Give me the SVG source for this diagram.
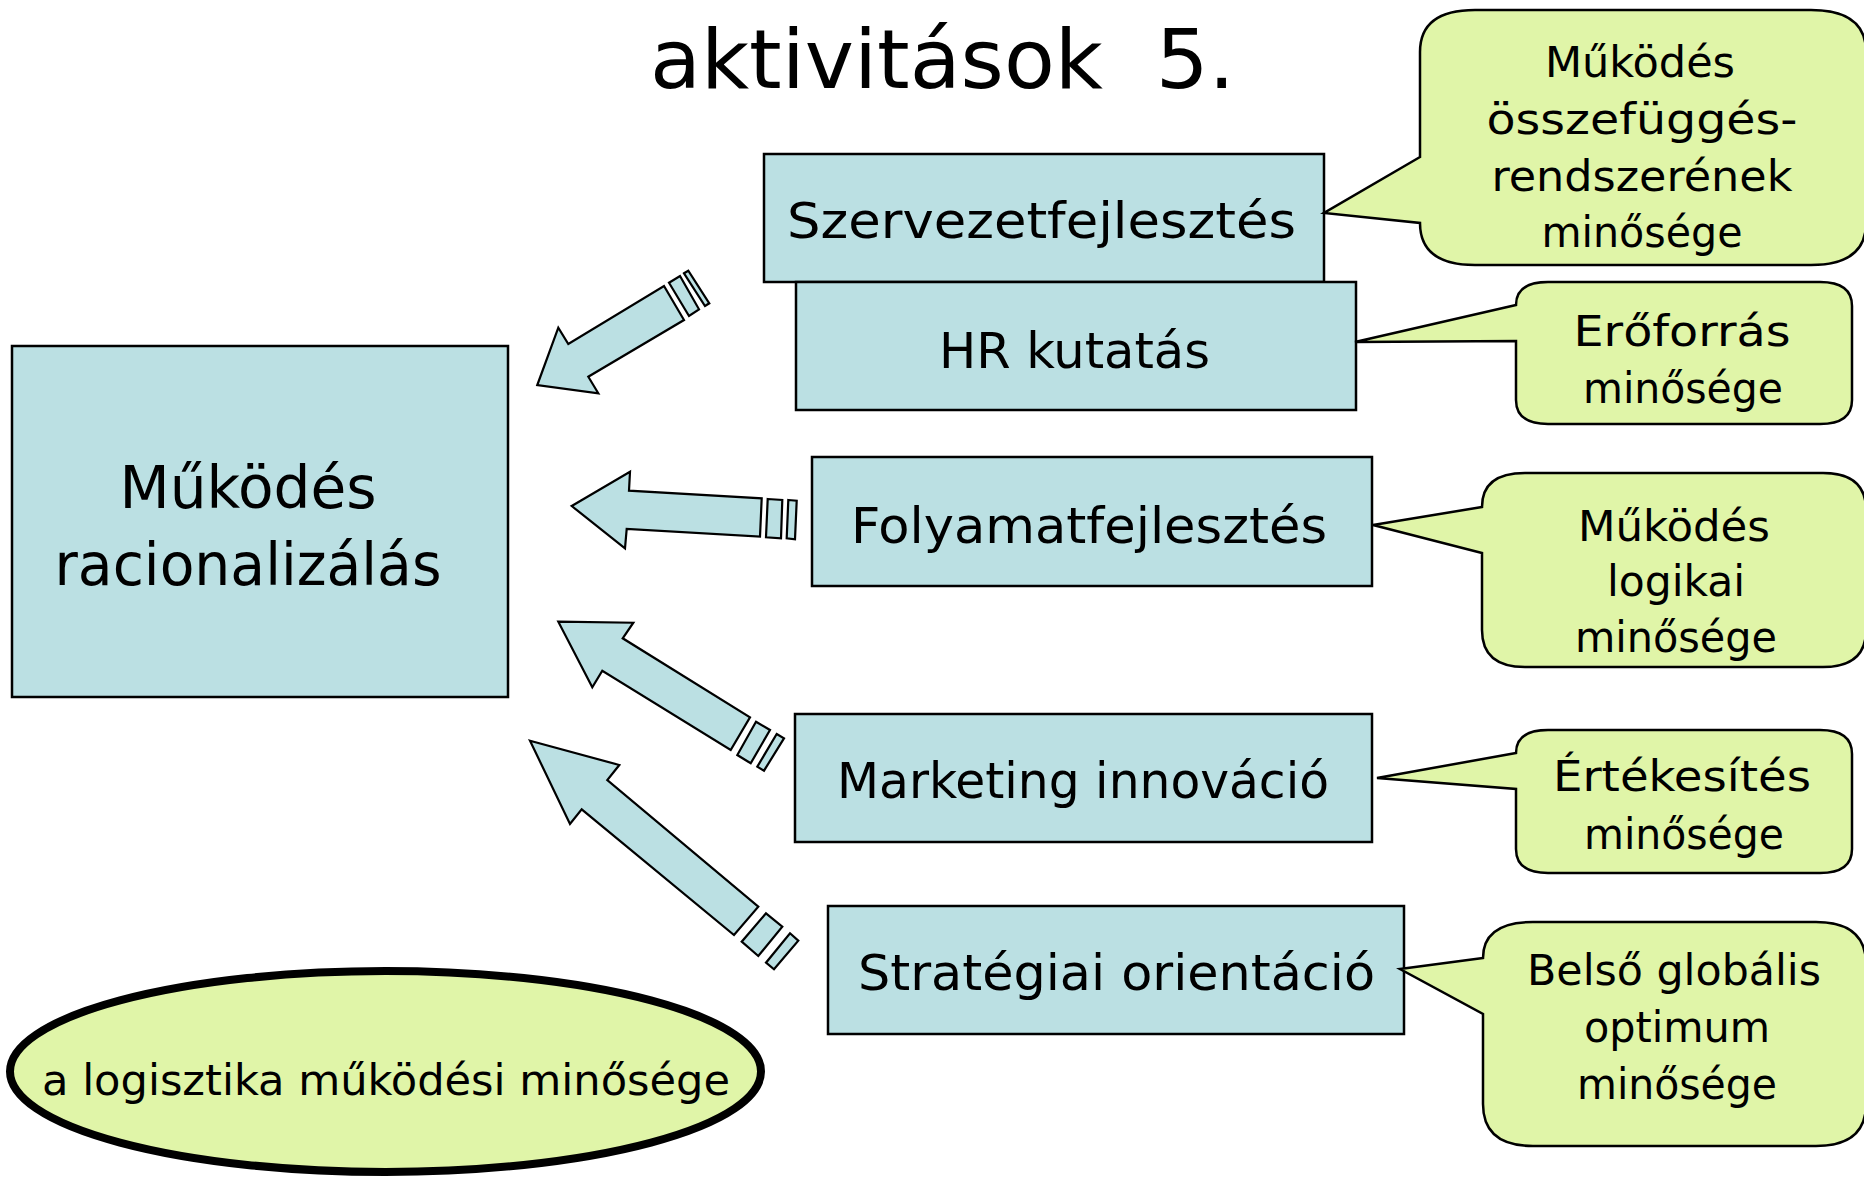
<svg xmlns="http://www.w3.org/2000/svg" width="1864" height="1178" viewBox="0 0 1864 1178">
<style>
.box{fill:#BBE0E3;stroke:#000;stroke-width:2.5}
.call{fill:#E0F5A8;stroke:#000;stroke-width:2.5;stroke-linejoin:miter}
.arrow{fill:#BBE0E3;stroke:#000;stroke-width:2.2;stroke-linejoin:miter}
text{font-family:"DejaVu Sans Condensed","DejaVu Sans",sans-serif;fill:#000}
.bt{font-size:50px}
.ct{font-size:43px;text-anchor:middle}
</style>
<rect width="1864" height="1178" fill="#fff"/>
<g id="title">
<text x="650" y="88" font-size="82" textLength="585" lengthAdjust="spacingAndGlyphs">aktivitások&#160;&#160;5.</text>
</g>
<g id="connectors">
<g id="arrow1">
<polygon class="arrow" points="537.3,385 558.3,327.7 568.3,344 664,286 684,320 588.3,376.7 598.3,393.3"/>
<polygon class="arrow" points="669,282.7 680,276 699,309.3 689,316"/>
<polygon class="arrow" points="684,273.3 688.3,270.7 709.3,303.3 705,306"/>
</g>
<g id="arrow2">
<polygon class="arrow" points="571.7,506 630,471.7 629,490.7 761.7,498.3 760,536.7 626.7,529 625,548.3"/>
<polygon class="arrow" points="767.7,499 782.3,500 781,538.3 766,537.3"/>
<polygon class="arrow" points="788.3,500 796.7,500.7 795,539.3 786.7,538.3"/>
</g>
<g id="arrow3">
<polygon class="arrow" points="558.3,621.7 633.3,622.7 622.7,638.3 750,717.3 730.7,750 602.3,670.7 592.3,687.3"/>
<polygon class="arrow" points="756,721.7 770,730 750.7,763.3 737.3,755"/>
<polygon class="arrow" points="776.7,734 784,738.3 764,770.7 757.3,766.7"/>
</g>
<g id="arrow4">
<polygon class="arrow" points="530,740.7 619.3,765 607.3,780 758.3,906.7 734,935 581.7,809.3 570,824"/>
<polygon class="arrow" points="766,913.3 782.3,926.7 758.3,956 741.7,941.7"/>
<polygon class="arrow" points="790,933.3 798.3,940.7 774,969.3 766,962.7"/>
</g>
</g>
<g id="mukodes-racionalizalas">
<rect class="box" x="12" y="346" width="496" height="351"/>
<text x="248" y="508" font-size="58" text-anchor="middle" textLength="257" lengthAdjust="spacingAndGlyphs">Működés</text>
<text x="248" y="585" font-size="58" text-anchor="middle" textLength="387" lengthAdjust="spacingAndGlyphs">racionalizálás</text>
</g>
<g id="szervezetfejlesztes">
<rect class="box" x="764" y="154" width="560" height="128"/>
<text class="bt" x="787" y="238" textLength="509" lengthAdjust="spacingAndGlyphs">Szervezetfejlesztés</text>
</g>
<g id="hr-kutatas">
<rect class="box" x="796" y="282" width="560" height="128"/>
<text class="bt" x="939" y="368" textLength="271" lengthAdjust="spacingAndGlyphs">HR kutatás</text>
</g>
<g id="folyamatfejlesztes">
<rect class="box" x="812" y="457" width="560" height="129"/>
<text class="bt" x="851" y="543" textLength="476" lengthAdjust="spacingAndGlyphs">Folyamatfejlesztés</text>
</g>
<g id="marketing-innovacio">
<rect class="box" x="795" y="714" width="577" height="128"/>
<text class="bt" x="837" y="798" textLength="492" lengthAdjust="spacingAndGlyphs">Marketing innováció</text>
</g>
<g id="strategiai-orientacio">
<rect class="box" x="828" y="906" width="576" height="128"/>
<text class="bt" x="858" y="990" textLength="517" lengthAdjust="spacingAndGlyphs">Stratégiai orientáció</text>
</g>
<g id="callout1">
<path class="call" d="M1420,157 L1324,213 L1420,223 Q1420,265 1475,265 L1811,265 Q1866,265 1866,223 L1866,52 Q1866,10 1811,10 L1475,10 Q1420,10 1420,52 Z"/>
<text class="ct" x="1640" y="77" textLength="190" lengthAdjust="spacingAndGlyphs">Működés</text>
<text class="ct" x="1642" y="134" textLength="311" lengthAdjust="spacingAndGlyphs">összefüggés-</text>
<text class="ct" x="1642" y="191" textLength="301" lengthAdjust="spacingAndGlyphs">rendszerének</text>
<text class="ct" x="1642" y="247" textLength="201" lengthAdjust="spacingAndGlyphs">minősége</text>
</g>
<g id="callout2">
<path class="call" d="M1516,305 L1355,342 L1516,341 L1516,400 Q1516,424 1548,424 L1820,424 Q1852,424 1852,400 L1852,306 Q1852,282 1820,282 L1548,282 Q1516,282 1516,305 Z"/>
<text class="ct" x="1682" y="346" textLength="217" lengthAdjust="spacingAndGlyphs">Erőforrás</text>
<text class="ct" x="1683" y="403" textLength="200" lengthAdjust="spacingAndGlyphs">minősége</text>
</g>
<g id="callout3">
<path class="call" d="M1482,507 L1373,525 L1482,553 L1482,630 Q1482,667 1525,667 L1823,667 Q1866,667 1866,630 L1866,510 Q1866,473 1823,473 L1525,473 Q1482,473 1482,507 Z"/>
<text class="ct" x="1674" y="541" textLength="192" lengthAdjust="spacingAndGlyphs">Működés</text>
<text class="ct" x="1676" y="596" textLength="138" lengthAdjust="spacingAndGlyphs">logikai</text>
<text class="ct" x="1676" y="652" textLength="202" lengthAdjust="spacingAndGlyphs">minősége</text>
</g>
<g id="callout4">
<path class="call" d="M1516,753 L1377,778 L1516,789 L1516,849 Q1516,873 1548,873 L1820,873 Q1852,873 1852,849 L1852,754 Q1852,730 1820,730 L1548,730 Q1516,730 1516,753 Z"/>
<text class="ct" x="1682" y="791" textLength="258" lengthAdjust="spacingAndGlyphs">Értékesítés</text>
<text class="ct" x="1684" y="849" textLength="200" lengthAdjust="spacingAndGlyphs">minősége</text>
</g>
<g id="callout5">
<path class="call" d="M1483,958 L1400,969 L1483,1014 L1483,1104 Q1483,1146 1533,1146 L1816,1146 Q1866,1146 1866,1104 L1866,964 Q1866,922 1816,922 L1533,922 Q1483,922 1483,958 Z"/>
<text class="ct" x="1674" y="985" textLength="294" lengthAdjust="spacingAndGlyphs">Belső globális</text>
<text class="ct" x="1677" y="1042" textLength="186" lengthAdjust="spacingAndGlyphs">optimum</text>
<text class="ct" x="1677" y="1099" textLength="200" lengthAdjust="spacingAndGlyphs">minősége</text>
</g>
<g id="logisztika-minoseg">
<ellipse cx="385.5" cy="1071.5" rx="375.5" ry="100.5" fill="#E0F5A8" stroke="#000" stroke-width="8"/>
<text x="386" y="1095" font-size="42" text-anchor="middle" textLength="688" lengthAdjust="spacingAndGlyphs">a logisztika működési minősége</text>
</g>
</svg>
